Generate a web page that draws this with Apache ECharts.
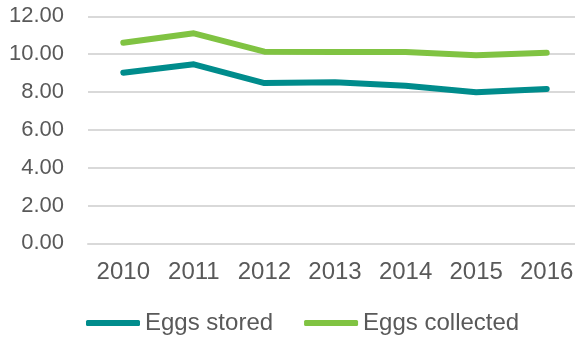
<!DOCTYPE html>
<html>
<head>
<meta charset="utf-8">
<script src="https://cdn.jsdelivr.net/npm/echarts@6/dist/echarts.min.js"></script>
<style>
  html, body { margin: 0; padding: 0; background: #fff; overflow: hidden; }
  /* plot area runs slightly past the right edge of the window */
  #chart { width: 582px; height: 338px; }
</style>
</head>
<body>
<div id="chart"></div>
<script>
// Years on the horizontal axis
const years = ['2010', '2011', '2012', '2013', '2014', '2015', '2016'];
// Eggs per year for each series
const eggsStored = [9.02, 9.46, 8.47, 8.51, 8.33, 7.98, 8.16];
const eggsCollected = [10.60, 11.10, 10.13, 10.11, 10.11, 9.94, 10.07];
// Value axis ticks
const yTicks = [0, 2, 4, 6, 8, 10, 12];

const labelColor = '#595959';
const gridColor = '#d9d9d9';
const fontFamily = '"Liberation Sans", Arial, sans-serif';

const chart = echarts.init(document.getElementById('chart'), null, { renderer: 'canvas' });

chart.setOption({
  animation: false,
  grid: { left: 88, right: 0, top: 16.3, height: 227, containLabel: false },
  legend: {
    left: 86,
    top: 311,
    padding: 0,
    itemWidth: 54,
    itemHeight: 6,
    itemGap: 31,
    icon: 'roundRect',
    textStyle: { color: labelColor, fontSize: 24, fontFamily: fontFamily },
    data: ['Eggs stored', 'Eggs collected']
  },
  xAxis: {
    type: 'category',
    data: years,
    boundaryGap: true,
    axisLine: { show: true, lineStyle: { color: gridColor, width: 2 } },
    axisTick: { show: false },
    axisLabel: { color: labelColor, fontSize: 24, fontFamily: fontFamily, margin: 17 }
  },
  yAxis: {
    type: 'value',
    min: yTicks[0],
    max: yTicks[yTicks.length - 1],
    interval: yTicks[1] - yTicks[0],
    axisLine: { show: false },
    axisTick: { show: false },
    splitLine: { lineStyle: { color: gridColor, width: 2 } },
    axisLabel: {
      color: labelColor, fontSize: 22, fontFamily: fontFamily, margin: 24,
      formatter: v => v.toFixed(2)
    }
  },
  series: [
    {
      name: 'Eggs stored',
      type: 'line',
      data: eggsStored,
      symbol: 'none',
      color: '#008c8c',
      lineStyle: { width: 6, cap: 'round', join: 'round' }
    },
    {
      name: 'Eggs collected',
      type: 'line',
      data: eggsCollected,
      symbol: 'none',
      color: '#80c342',
      lineStyle: { width: 6, cap: 'round', join: 'round' }
    }
  ]
});
</script>
</body>
</html>
